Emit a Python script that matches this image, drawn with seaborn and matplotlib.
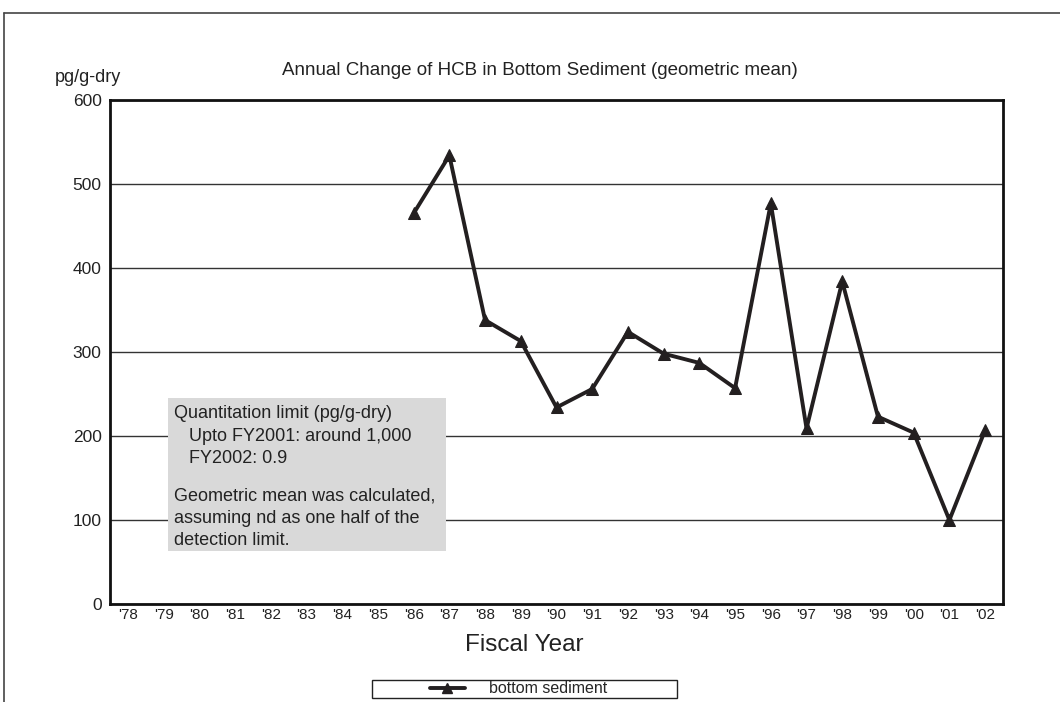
import numpy as np
import pandas as pd
import matplotlib
matplotlib.use("Agg")
from matplotlib import pyplot as plt
from matplotlib.patches import Rectangle
from matplotlib.lines import Line2D
import seaborn as sns

# axis categories, fiscal years '78 - '02
all_years = list(range(1978, 2003))
tick_labels = ["'" + str(y)[2:] for y in all_years]

# measured years and geometric means (pg/g-dry)
years = [1986, 1987, 1988, 1989, 1990, 1991, 1992, 1993, 1994,
         1995, 1996, 1997, 1998, 1999, 2000, 2001, 2002]
hcb = [465, 534, 338, 313, 234, 256, 324, 298, 287,
       257, 477, 209, 384, 223, 204, 100, 207]

y_ticks = [0, 100, 200, 300, 400, 500, 600]

df = pd.DataFrame({"year": years, "hcb": hcb})

sns.set_style("white")
plt.rcParams['font.family'] = ['Liberation Sans', 'DejaVu Sans']

fig = plt.figure(figsize=(10.6, 7.02), dpi=100)
ax = fig.add_axes([0.1038, 0.1396, 0.8424, 0.7179])

ink = "#231f20"
sns.lineplot(data=df, x="year", y="hcb", ax=ax, color=ink, linewidth=2.8,
             marker="^", markersize=9, markeredgecolor=ink, zorder=5)

ax.set_xlim(1977.5, 2002.5)
ax.set_ylim(0, 600)
ax.set_xticks(all_years)
ax.set_xticklabels(tick_labels, fontsize=11)
ax.set_yticks(y_ticks)
ax.set_yticklabels([str(v) for v in y_ticks], fontsize=12.5)
ax.tick_params(axis="both", length=0, colors="#222222")
ax.tick_params(axis="x", pad=3)
ax.tick_params(axis="y", pad=6)
ax.set_xlabel("")
ax.set_ylabel("")

ax.yaxis.grid(True, color="#333333", linewidth=1)
ax.set_axisbelow(True)
for s in ax.spines.values():
    s.set_color("#111111")
    s.set_linewidth(2)

# note box
ax.add_patch(Rectangle((0.065, 0.105), 0.311, 0.304, transform=ax.transAxes,
                       facecolor="#d9d9d9", edgecolor="none", zorder=3))
note1 = "Quantitation limit (pg/g-dry)\n   Upto FY2001: around 1,000\n   FY2002: 0.9"
note2 = "Geometric mean was calculated,\nassuming nd as one half of the\ndetection limit."
ax.text(0.072, 0.394, note1, transform=ax.transAxes, fontsize=13, va="top",
        ha="left", linespacing=1.4, color="#222222", zorder=4)
ax.text(0.072, 0.231, note2, transform=ax.transAxes, fontsize=13, va="top",
        ha="left", linespacing=1.4, color="#222222", zorder=4)

fig.text(0.509, 0.900, "Annual Change of HCB in Bottom Sediment (geometric mean)",
         ha="center", va="center", fontsize=13.5, color="#222222")
fig.text(0.052, 0.890, "pg/g-dry", ha="left", va="center", fontsize=13, color="#222222")
fig.text(0.495, 0.081, "Fiscal Year", ha="center", va="center", fontsize=17.5,
         color="#222222")

# legend box
fig.add_artist(Rectangle((0.351, 0.006), 0.288, 0.026, transform=fig.transFigure,
                         facecolor="white", edgecolor="#222222", linewidth=1))
handle = Line2D([], [], color=ink, linewidth=2.8, marker="^", markersize=7)
fig.legend([handle], ["bottom sediment"], loc="center", bbox_to_anchor=(0.489, 0.019),
           frameon=False, fontsize=11.5, handlelength=2.2, handletextpad=1.5,
           borderpad=0)

# outer frame of the figure (cut at right and bottom)
fig.add_artist(Line2D([0.0038, 1.0], [0.9815, 0.9815], transform=fig.transFigure,
                      color="#444444", linewidth=1.2))
fig.add_artist(Line2D([0.0038, 0.0038], [0.0, 0.9815], transform=fig.transFigure,
                      color="#444444", linewidth=1.2))

fig.savefig("out.png", dpi=100)
